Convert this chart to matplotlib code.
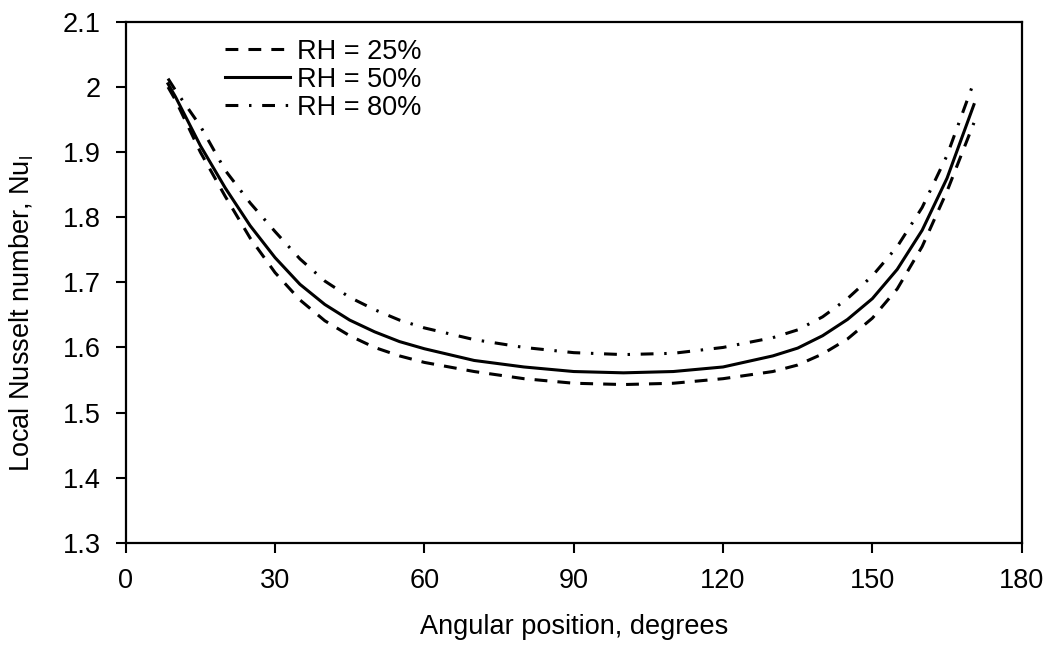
import numpy as np
import matplotlib.pyplot as plt

plt.rcParams['font.family'] = ['Liberation Sans', 'DejaVu Sans']
plt.rcParams['mathtext.fontset'] = 'custom'
plt.rcParams['mathtext.rm'] = 'Liberation Sans'

# Angular position (degrees)
theta = [8.5, 10, 15, 20, 25, 30, 35, 40, 45, 50, 55, 60, 70, 80, 90, 100,
         110, 120, 130, 135, 140, 145, 150, 155, 160, 165, 170.4]

# Local Nusselt number for each relative humidity
nu_rh25 = [2.000, 1.980, 1.900, 1.832, 1.768, 1.715, 1.673, 1.641, 1.618,
           1.600, 1.587, 1.577, 1.563, 1.552, 1.545, 1.543, 1.545, 1.552,
           1.563, 1.573, 1.590, 1.613, 1.645, 1.690, 1.755, 1.840, 1.945]
nu_rh50 = [2.005, 1.985, 1.910, 1.845, 1.787, 1.738, 1.697, 1.666, 1.642,
           1.624, 1.609, 1.598, 1.580, 1.570, 1.563, 1.561, 1.563, 1.570,
           1.587, 1.599, 1.618, 1.643, 1.675, 1.720, 1.780, 1.860, 1.973]
nu_rh80 = [2.013, 1.995, 1.940, 1.872, 1.822, 1.778, 1.736, 1.702, 1.677,
           1.658, 1.642, 1.630, 1.612, 1.600, 1.592, 1.589, 1.591, 1.600,
           1.615, 1.627, 1.647, 1.675, 1.710, 1.755, 1.815, 1.895, 2.008]

fs = 19.5

fig = plt.figure(figsize=(10.52, 6.52), dpi=100)
ax = fig.add_axes([0.1195, 0.1676, 0.8517, 0.7987])

lw = 2.2
ax.plot(theta, nu_rh25, color='black', lw=lw, dashes=(4.2, 3.3), label='RH = 25%')
ax.plot(theta, nu_rh50, color='black', lw=lw, label='RH = 50%')
ax.plot(theta, nu_rh80, color='black', lw=lw, dashes=(4.2, 3.5, 0.8, 3.5), label='RH = 80%')

ax.set_xlim(0, 180)
ax.set_ylim(1.3, 2.1)
ax.set_xticks(np.arange(0, 181, 30))
ax.set_yticks(np.arange(1.3, 2.11, 0.1))
ax.set_yticklabels(['1.3', '1.4', '1.5', '1.6', '1.7', '1.8', '1.9', '2', '2.1'])

for s in ax.spines.values():
    s.set_linewidth(1.6)
    s.set_color('black')

ax.tick_params(axis='both', direction='out', length=7, width=1.5,
               labelsize=fs, pad=11)

ax.set_xlabel('Angular position, degrees', fontsize=fs)
ax.xaxis.set_label_coords(0.5, -0.136)
ax.set_ylabel(r'Local Nusselt number, Nu$_\mathregular{l}$', fontsize=fs)
ax.yaxis.set_label_coords(-0.100, 0.44)

ax.legend(loc='upper left', bbox_to_anchor=(0.111, 0.968), frameon=False,
          fontsize=fs, handlelength=2.4, handletextpad=0.25, labelspacing=0.08,
          borderpad=0, borderaxespad=0)

fig.savefig('out.png', dpi=100)
